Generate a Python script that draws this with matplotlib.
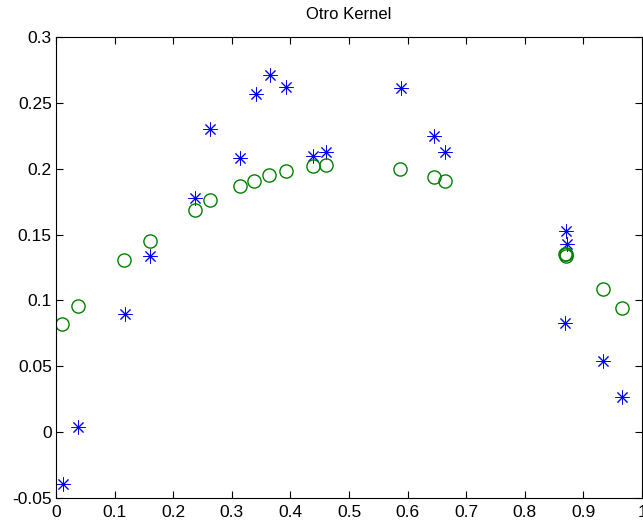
import matplotlib
matplotlib.use("Agg")
import matplotlib.pyplot as plt

title = "Otro Kernel"

x_star = [0.012, 0.037, 0.118, 0.160, 0.237, 0.263, 0.314, 0.341, 0.365, 0.392,
          0.439, 0.461, 0.589, 0.645, 0.664, 0.870, 0.872, 0.869, 0.933, 0.966]
y_star = [-0.039, 0.004, 0.090, 0.134, 0.178, 0.230, 0.208, 0.257, 0.271, 0.262,
          0.210, 0.213, 0.261, 0.225, 0.213, 0.153, 0.143, 0.083, 0.054, 0.027]

x_circ = [0.010, 0.037, 0.116, 0.160, 0.237, 0.263, 0.314, 0.338, 0.363, 0.392,
          0.439, 0.461, 0.587, 0.645, 0.664, 0.870, 0.871, 0.869, 0.933, 0.966]
y_circ = [0.082, 0.096, 0.131, 0.145, 0.169, 0.176, 0.187, 0.191, 0.195, 0.198,
          0.202, 0.203, 0.200, 0.194, 0.191, 0.135, 0.134, 0.135, 0.109, 0.094]

x_ticks = [0, 0.1, 0.2, 0.3, 0.4, 0.5, 0.6, 0.7, 0.8, 0.9, 1]
x_ticklabels = ["0", "0.1", "0.2", "0.3", "0.4", "0.5", "0.6", "0.7", "0.8", "0.9", "1"]
y_ticks = [-0.05, 0, 0.05, 0.1, 0.15, 0.2, 0.25, 0.3]
y_ticklabels = ["-0.05", "0", "0.05", "0.1", "0.15", "0.2", "0.25", "0.3"]

plt.rcParams['font.family'] = ['Liberation Sans', 'DejaVu Sans']

fig = plt.figure(figsize=(6.43, 5.22), dpi=100)
ax = fig.add_axes([0.0871, 0.046, 0.9114, 0.883])

ax.plot(x_star, y_star, linestyle='none', marker=(8, 2, 0), markersize=10,
        markeredgewidth=0.7, color=(0, 0, 1))
ax.plot(x_circ, y_circ, linestyle='none', marker='o', markersize=9.5,
        markerfacecolor='none', markeredgewidth=1.0, markeredgecolor=(0, 0.5, 0))

ax.set_xlim(0, 1)
ax.set_ylim(-0.05, 0.3)
ax.set_xticks(x_ticks)
ax.set_xticklabels(x_ticklabels)
ax.set_yticks(y_ticks)
ax.set_yticklabels(y_ticklabels)
ax.tick_params(direction='in', top=True, right=True, length=5, width=0.8,
               labelsize=12.5, colors='black')
ax.tick_params(axis='x', pad=5)
ax.tick_params(axis='y', pad=3)
for s in ax.spines.values():
    s.set_linewidth(0.8)
ax.set_title(title, fontsize=12, pad=13)

fig.savefig("out.png", dpi=100)
